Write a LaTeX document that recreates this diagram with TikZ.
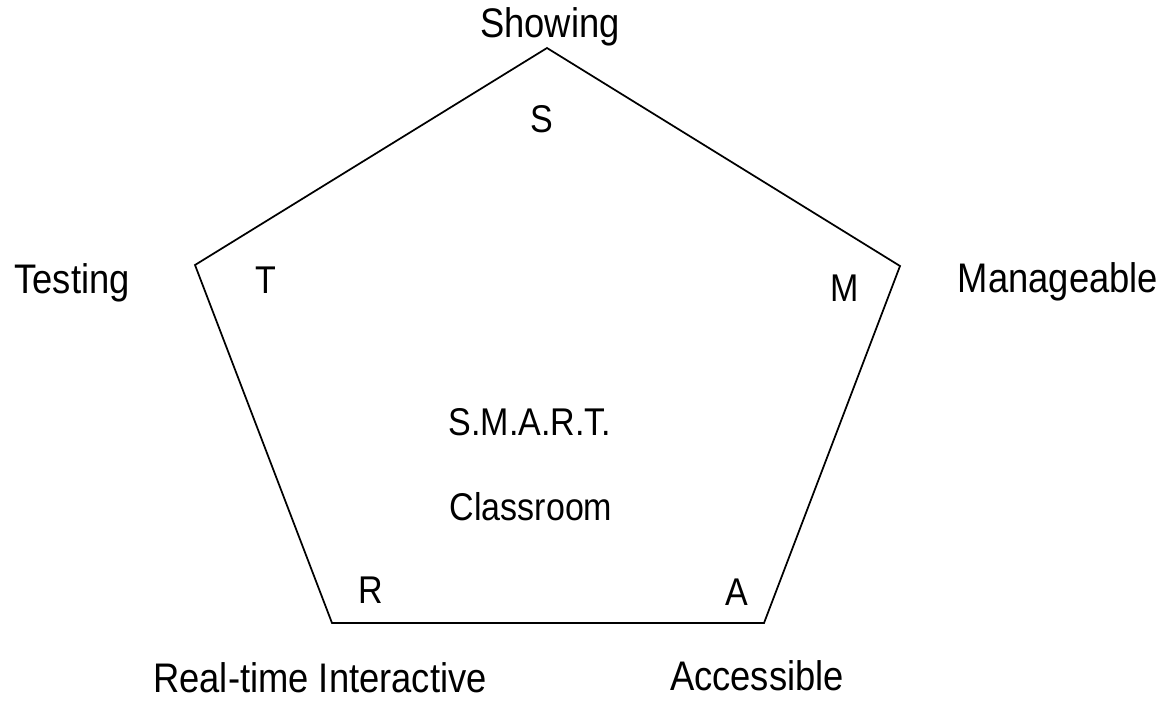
\documentclass[tikz,border=0pt]{standalone}
\usepackage{graphicx}
\usepackage{fontspec}
\setmainfont{Liberation Sans}
\newcommand{\narrowtxt}[1]{\scalebox{0.88}[1]{#1}}
\begin{document}
\begin{tikzpicture}[x=0.75pt,y=-0.75pt,
  outer/.style={anchor=base,inner sep=0pt,font=\fontsize{31}{34}\selectfont},
  inner/.style={anchor=base,inner sep=0pt,font=\fontsize{29}{32}\selectfont},
  edge/.style={draw=black,line width=1.3pt,line join=miter}]
\useasboundingbox (0,0) rectangle (1170,700);
\coordinate (vS) at (547,48);
\coordinate (vM) at (900,266);
\coordinate (vA) at (764,623);
\coordinate (vR) at (332,623);
\coordinate (vT) at (195,265);
\draw[edge] (vS) -- (vM) -- (vA) -- (vR) -- (vT) -- cycle;
\node[outer] (showing) at (550,37) {\narrowtxt{Showing}};
\node[outer] (testing) at (72,293) {\narrowtxt{Testing}};
\node[outer] (manage) at (1058,292) {\narrowtxt{Manageable}};
\node[outer] (realtime) at (320,692) {\narrowtxt{Real-time Interactive}};
\node[outer] (access) at (757,690) {\narrowtxt{Accessible}};
\node[inner] (lS) at (542,132) {\narrowtxt{S}};
\node[inner] (lT) at (266,293) {\narrowtxt{T}};
\node[inner] (lM) at (845,301) {\narrowtxt{M}};
\node[inner] (lR) at (371,603) {\narrowtxt{R}};
\node[inner] (lA) at (737,605) {\narrowtxt{A}};
\node[inner] (smart) at (530,435) {\narrowtxt{S.M.A.R.T.}};
\node[inner] (class) at (531,520) {\narrowtxt{Classroom}};
\end{tikzpicture}
\end{document}
